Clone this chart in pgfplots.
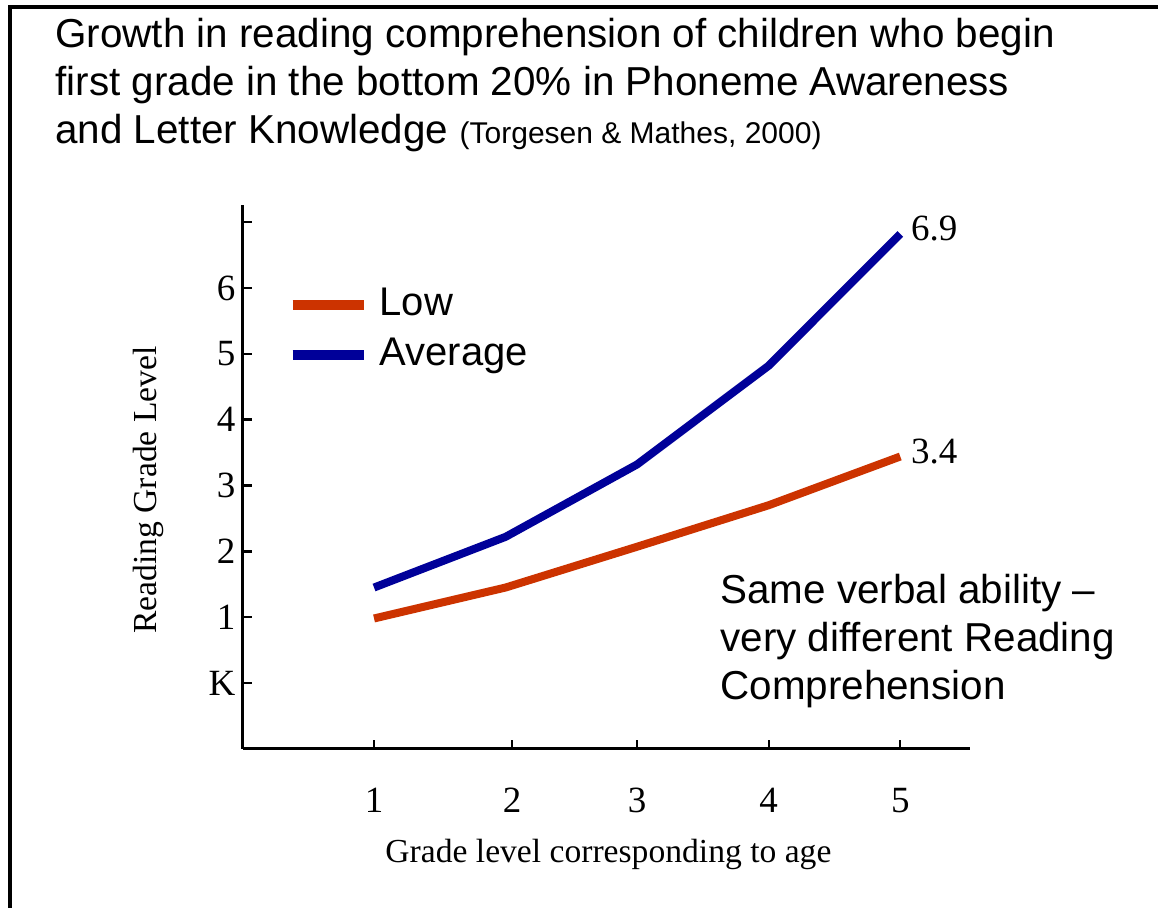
\documentclass[border=0pt]{standalone}
\usepackage{pgfplots}
\pgfplotsset{compat=1.18}
\usepackage{fontspec}
\setmainfont{Liberation Serif}
\newfontfamily\arial{Liberation Sans}
\definecolor{lowred}{HTML}{CC3300}
\definecolor{avgblue}{HTML}{000099}
\begin{document}
\begin{tikzpicture}[x=1pt,y=1pt]
\useasboundingbox (0,0) rectangle (579,454);
\draw[line width=2pt] (5,0) -- (5,450.25) -- (579,450.25);
\node[anchor=base west, inner sep=0, font=\arial\fontsize{20.2}{24}\selectfont] at (27.5,430) {Growth in reading comprehension of children who begin};
\node[anchor=base west, inner sep=0, font=\arial\fontsize{20.2}{24}\selectfont] at (27.5,406) {first grade in the bottom 20\% in Phoneme Awareness};
\node[anchor=base west, inner sep=0, font=\arial\fontsize{20.2}{24}\selectfont] at (27.5,382) {and Letter Knowledge {\fontsize{15}{18}\selectfont (Torgesen \& Mathes, 2000)}};
\node[anchor=base west, inner sep=0, font=\arial\fontsize{20.2}{24}\selectfont] at (360,152) {Same verbal ability \textendash};
\node[anchor=base west, inner sep=0, font=\arial\fontsize{20.2}{24}\selectfont] at (360,128) {very different Reading};
\node[anchor=base west, inner sep=0, font=\arial\fontsize{20.2}{24}\selectfont] at (360,104) {Comprehension};
\begin{axis}[
  at={(121.25pt,112.5pt)}, anchor=origin,
  scale only axis, width=363.75pt, height=271.9pt,
  xmin=0, xmax=5.53, ymin=-1, ymax=7.26,
  axis x line*=bottom, axis y line*=left,
  axis line style={-, line width=1.5pt, black},
  clip=false,
  xtick={1,2.05,3,4,5}, xticklabels={1,2,3,4,5},
  ytick={0,1,2,3,4,5,6,7}, yticklabels={K,1,2,3,4,5,6,{}},
  tick align=inside, major tick length=4.5pt,
  tick style={black, line width=1.2pt},
  ticklabel style={font=\fontsize{18.5}{20}\selectfont},
  xticklabel style={yshift=-16pt},
  xlabel={Grade level corresponding to age},
  ylabel={Reading Grade Level},
  label style={font=\fontsize{16.8}{19}\selectfont},
  xlabel style={at={(axis description cs:0.503,-0.195)}, anchor=center},
  ylabel style={at={(axis description cs:-0.129,0.476)}, anchor=center},
  legend style={draw=none, fill=none, at={(axis description cs:0.0535,0.87)}, anchor=north west,
    font=\arial\fontsize{20}{24}\selectfont,
    nodes={inner sep=3.5pt, text height=14pt, text depth=4pt},
    row sep=0pt},
  legend cell align=left,
  legend image code/.code={\draw[#1, line width=4.75pt] (0pt,0pt) -- (35.5pt,0pt); \path (38pt,0pt);},
]
\addplot[lowred, line width=4pt] coordinates {(1,0.98) (2,1.45) (3,2.07) (4,2.70) (5,3.44)};
\addlegendentry{Low}
\addplot[avgblue, line width=4pt] coordinates {(1,1.45) (2,2.22) (3,3.32) (4,4.82) (5,6.82)};
\addlegendentry{Average}
\node[anchor=west, inner sep=0, font=\fontsize{18.5}{20}\selectfont] at (axis cs:5.08,6.91) {6.9};
\node[anchor=west, inner sep=0, font=\fontsize{18.5}{20}\selectfont] at (axis cs:5.08,3.51) {3.4};
\end{axis}
\end{tikzpicture}
\end{document}
